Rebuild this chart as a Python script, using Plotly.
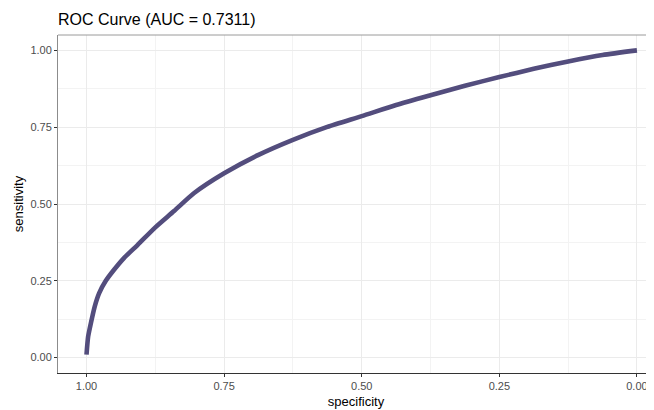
import plotly.graph_objects as go

specificity = [1.0, 0.997, 0.992, 0.985, 0.977, 0.965, 0.95, 0.932, 0.907, 0.875, 0.841,
               0.805, 0.75, 0.6875, 0.625, 0.5625, 0.5, 0.4375, 0.375, 0.3125, 0.25,
               0.1875, 0.125, 0.0625, 0.0]
sensitivity = [0.01, 0.069, 0.113, 0.167, 0.21, 0.25, 0.286, 0.324, 0.367, 0.424, 0.477,
               0.535, 0.600, 0.660, 0.709, 0.751, 0.786, 0.822, 0.854, 0.885, 0.913,
               0.940, 0.964, 0.985, 1.0]
tick_vals = [1.0, 0.75, 0.5, 0.25, 0.0]
tick_text = ["1.00", "0.75", "0.50", "0.25", "0.00"]
minor_vals = [0.875, 0.625, 0.375, 0.125]
title_text = "ROC Curve (AUC = 0.7311)"

FONT = "Arial, Liberation Sans, sans-serif"
W, H = 646, 402  # page body has an 8px margin

fig = go.Figure()
fig.add_trace(go.Scatter(
    x=specificity, y=sensitivity, mode="lines",
    line=dict(color="#534d7d", width=4.6, shape="spline", smoothing=0.6),
    showlegend=False, hoverinfo="skip"))

fig.update_layout(
    width=W, height=H,
    margin=dict(l=50, r=0, t=27, b=37),
    paper_bgcolor="white", plot_bgcolor="white",
    font=dict(family=FONT, color="#4d4d4d", size=11),
    title=dict(text=title_text, x=0, xanchor="left", xref="paper",
               y=1 - 11/H, yanchor="middle", yref="container",
               font=dict(family=FONT, size=16, color="black")),
    xaxis=dict(range=[1.0518, -0.031], tickvals=tick_vals, ticktext=tick_text,
               showgrid=True, gridcolor="#ebebeb", gridwidth=1,
               minor=dict(tickvals=minor_vals, showgrid=True,
                          gridcolor="#f3f3f3", gridwidth=1, ticks=""),
               zeroline=False, showline=True, linecolor="#333333", linewidth=1,
               ticks="outside", ticklen=3, tickcolor="#333333", tickwidth=1,
               tickfont=dict(size=11, color="#4d4d4d"),
               title=dict(text="specificity", standoff=5,
                          font=dict(size=13, color="black")),
               automargin=False),
    yaxis=dict(range=[-0.05, 1.05], tickvals=tick_vals, ticktext=tick_text,
               showgrid=True, gridcolor="#ebebeb", gridwidth=1,
               minor=dict(tickvals=minor_vals, showgrid=True,
                          gridcolor="#f3f3f3", gridwidth=1, ticks=""),
               zeroline=False, showline=True, linecolor="#8c8c8c", linewidth=1,
               ticks="outside", ticklen=3, tickcolor="#333333", tickwidth=1,
               tickfont=dict(size=11, color="#4d4d4d"),
               title=dict(text="sensitivity", standoff=3,
                          font=dict(size=13, color="black")),
               automargin=False),
    shapes=[dict(type="line", xref="paper", yref="paper", x0=0, x1=1, y0=1, y1=1,
                 line=dict(color="#9a9a9a", width=1))],
)

fig.write_html("out.html")
